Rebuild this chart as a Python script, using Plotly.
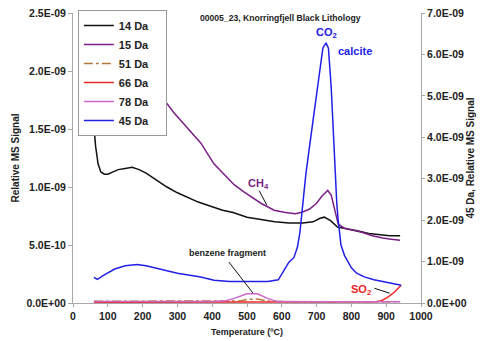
import plotly.graph_objects as go

# ---------------- data (values in units of 1e-9) ----------------
t14 = [60, 65, 72, 80, 90, 100, 115, 130, 150, 170, 190, 210, 240, 270, 300, 330, 360, 400, 430, 460,
       500, 540, 580, 620, 660, 690, 710, 722, 740, 760, 790, 820, 850, 880, 910, 940]
v14 = [1.53, 1.35, 1.20, 1.13, 1.11, 1.11, 1.13, 1.15, 1.16, 1.17, 1.15, 1.12, 1.06, 1.00, 0.95, 0.91, 0.87, 0.83, 0.80, 0.78,
       0.74, 0.72, 0.70, 0.69, 0.69, 0.70, 0.73, 0.74, 0.71, 0.655, 0.64, 0.62, 0.60, 0.59, 0.58, 0.58]

t15 = [180, 230, 260, 290, 330, 367, 405, 444, 463, 490, 511, 540, 578, 610, 640, 660, 680, 700, 715, 732,
       742, 752, 762, 780, 800, 830, 860, 890, 915, 940]
v15 = [2.15, 1.90, 1.76, 1.64, 1.50, 1.38, 1.20, 1.08, 1.02, 0.96, 0.92, 0.86, 0.80, 0.78, 0.77, 0.785, 0.81, 0.86, 0.92, 0.97,
       0.93, 0.80, 0.68, 0.645, 0.63, 0.61, 0.58, 0.56, 0.55, 0.54]

t51 = [60, 150, 250, 350, 450, 480, 500, 530, 560, 600, 700, 800, 900, 940]
v51 = [0.015, 0.015, 0.016, 0.015, 0.015, 0.018, 0.03, 0.035, 0.016, 0.012, 0.010, 0.010, 0.010, 0.010]

t66 = [60, 200, 400, 600, 800, 860, 870, 886, 905, 924, 943]
v66 = [0.006, 0.006, 0.006, 0.006, 0.006, 0.007, 0.01, 0.02, 0.05, 0.095, 0.153]

t78 = [60, 200, 400, 440, 463, 500, 530, 559, 587, 700, 800, 940]
v78 = [0.012, 0.012, 0.012, 0.02, 0.04, 0.08, 0.08, 0.04, 0.012, 0.010, 0.010, 0.010]

t45 = [60, 70, 90, 120, 150, 184, 210, 250, 300, 367, 405, 450, 511, 560, 590, 605, 620, 635, 645, 652,
       660, 669, 680, 690, 700, 710, 718, 727, 734, 742, 748, 753, 758, 762, 770, 780, 789, 800, 815, 837,
       865, 895, 920, 943]
v45 = [0.62, 0.57, 0.68, 0.82, 0.90, 0.93, 0.90, 0.82, 0.72, 0.63, 0.55, 0.52, 0.51, 0.52, 0.56, 0.78, 0.98, 1.10, 1.35, 1.70,
       2.40, 3.10, 3.80, 4.45, 5.10, 5.75, 6.15, 6.28, 6.15, 5.20, 4.10, 3.00, 2.40, 2.00, 1.40, 1.15, 1.00, 0.85, 0.72, 0.63,
       0.56, 0.51, 0.47, 0.43]

left_ticks = [0, 0.5e-9, 1.0e-9, 1.5e-9, 2.0e-9, 2.5e-9]
left_labels = ["0.0E+00", "5.0E-10", "1.0E-09", "1.5E-09", "2.0E-09", "2.5E-09"]
right_ticks = [i * 1e-9 for i in range(8)]
right_labels = ["0.0E+00", "1.0E-09", "2.0E-09", "3.0E-09", "4.0E-09", "5.0E-09", "6.0E-09", "7.0E-09"]

E = 1e-9
sc = lambda v: [x * E for x in v]
PAD = "\u00a0" * 4  # right padding inside the legend box

FONT = "Liberation Sans, Arial, sans-serif"
fig = go.Figure()
fig.add_trace(go.Scatter(x=t14, y=sc(v14), name="14 Da" + PAD, mode="lines", line=dict(color="#111111", width=1.5)))
fig.add_trace(go.Scatter(x=t15, y=sc(v15), name="15 Da" + PAD, mode="lines", line=dict(color="#7B1F86", width=1.5)))
fig.add_trace(go.Scatter(x=t51, y=sc(v51), name="51 Da" + PAD, mode="lines", line=dict(color="#B07A3C", width=1.5, dash="dashdot")))
fig.add_trace(go.Scatter(x=t66, y=sc(v66), name="66 Da" + PAD, mode="lines", line=dict(color="#F02828", width=1.5)))
fig.add_trace(go.Scatter(x=t78, y=sc(v78), name="78 Da" + PAD, mode="lines", line=dict(color="#CC66C8", width=1.5)))
fig.add_trace(go.Scatter(x=t45, y=sc(v45), name="45 Da" + PAD, mode="lines", yaxis="y2", line=dict(color="#2020E8", width=1.5)))

axcol = "#A8A8A8"
tickfont = dict(family=FONT, size=10.5, color="#222222", weight="bold")

fig.update_layout(
    width=494, height=341,
    margin=dict(l=73, r=73, t=13, b=38, autoexpand=False),
    paper_bgcolor="white", plot_bgcolor="white",
    font=dict(family=FONT, color="#222222"),
    showlegend=True,
    legend=dict(x=0.014, y=1.01, xanchor="left", yanchor="top", bgcolor="white",
                bordercolor="#999999", borderwidth=1,
                font=dict(family=FONT, size=11, color="#222222", weight="bold"),
                tracegroupgap=0, itemwidth=30),
    xaxis=dict(range=[0, 1000], tickvals=list(range(0, 1001, 100)), showgrid=False, zeroline=False,
               showline=True, linecolor=axcol, linewidth=1, ticks="outside", ticklen=3, tickcolor=axcol,
               tickfont=tickfont, automargin=False,
               title=dict(text="Temperature (ºC)", font=dict(family=FONT, size=9, color="#222222", weight="bold"),
                          standoff=8)),
    yaxis=dict(range=[0, 2.5e-9], tickvals=left_ticks, ticktext=left_labels, showgrid=False, zeroline=False,
               showline=True, linecolor=axcol, linewidth=1, ticks="outside", ticklen=4, tickcolor=axcol,
               tickfont=tickfont, automargin=False,
               title=dict(text="Relative MS Signal", font=dict(family=FONT, size=10, color="#222222", weight="bold"),
                          standoff=4)),
    yaxis2=dict(range=[0, 7e-9], tickvals=right_ticks, ticktext=right_labels, overlaying="y", side="right",
                showgrid=False, zeroline=False, showline=True, linecolor=axcol, linewidth=1,
                ticks="outside", ticklen=3, tickcolor=axcol, tickfont=tickfont, automargin=False,
                title=dict(text="45 Da, Relative MS Signal", font=dict(family=FONT, size=10, color="#222222", weight="bold"),
                           standoff=1)),
)

ann_font = dict(family=FONT, weight="bold")
fig.add_annotation(x=0.595, y=0.983, xref="paper", yref="paper", yanchor="middle", showarrow=False,
                   text="00005_23, Knorringfjell Black Lithology",
                   font=dict(size=8.6, color="#222222", **ann_font))
fig.add_annotation(x=727, y=2.33e-9, text="CO<sub>2</sub>", showarrow=False,
                   font=dict(size=11, color="#2020E8", **ann_font))
fig.add_annotation(x=809, y=2.17e-9, text="calcite", showarrow=False,
                   font=dict(size=11, color="#2020E8", **ann_font))
fig.add_annotation(x=532, y=1.03e-9, text="CH<sub>4</sub>", showarrow=False,
                   font=dict(size=11, color="#7B1F86", **ann_font))
fig.add_annotation(x=445, y=0.43e-9, text="benzene fragment", showarrow=False,
                   font=dict(size=9, color="#222222", **ann_font))
fig.add_annotation(x=828, y=0.11e-9, text="SO<sub>2</sub>", showarrow=False,
                   font=dict(size=11, color="#F02828", **ann_font))

fig.add_shape(type="line", x0=535, y0=0.968e-9, x1=557, y1=0.843e-9, line=dict(color="#111111", width=1))
fig.add_shape(type="line", x0=448, y0=0.353e-9, x1=517, y1=0.086e-9, line=dict(color="#111111", width=1))
fig.add_shape(type="line", x0=866, y0=0.127e-9, x1=910, y1=0.084e-9, line=dict(color="#111111", width=1))

fig.write_html("out.html", config={"displayModeBar": False},
               post_script="document.body.style.margin='0';")
